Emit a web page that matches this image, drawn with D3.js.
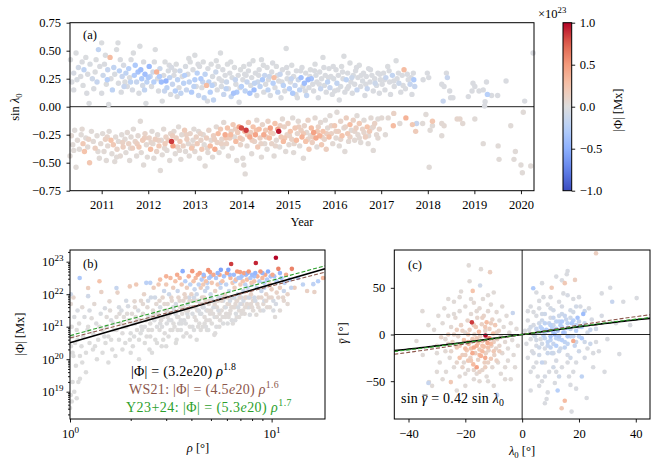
<!DOCTYPE html>
<html>
<head>
<meta charset="utf-8">
<script src="https://cdn.jsdelivr.net/npm/d3@7"></script>
<style>
body { margin: 0; background: #fff; }
svg, svg text { font-family: "Liberation Serif", "DejaVu Serif", serif; }
</style>
</head>
<body>
<div id="chart"></div>
<script>
// ---- data ----
// panel (a): [year, sin(lambda0), signed flux in 1e21 Mx]
const aNorth = [
[2010.33,0.42,-2],[2010.36,0.22,-3],[2010.4,0.30,-5],[2010.45,0.48,-2],[2010.47,0.24,-4],[2010.5,0.35,-8],
[2010.55,0.27,-3],[2010.6,0.19,-2],[2010.62,0.33,-20],[2010.66,0.44,-2],[2010.7,0.29,-3],[2010.73,0.03,-2],[2010.75,0.38,-4],[2010.8,0.25,-10],[2010.83,0.16,-3],[2010.86,0.31,-2],[2010.9,0.22,-15],[2010.93,0.51,-18],[2010.96,0.36,-3],[2011.0,0.57,-2],[2011.0,0.12,-3],
[2011.03,0.28,-12],[2011.06,0.38,-3],[2011.1,0.20,-2],[2011.13,0.33,-15],[2011.15,0.02,-2],[2011.18,0.44,30],[2011.2,0.25,-3],[2011.23,0.15,-20],[2011.26,0.35,-18],[2011.28,0.29,-4],[2011.32,0.51,-2],[2011.35,0.57,-2],[2011.36,0.21,-3],[2011.38,0.32,-22],[2011.42,0.13,-3],[2011.44,0.27,-15],[2011.47,0.37,-5],[2011.5,0.22,-2],
[2011.52,0.30,-20],[2011.55,0.18,-3],[2011.58,0.34,-25],[2011.6,0.26,-2],[2011.63,0.42,-3],[2011.66,0.15,-5],[2011.7,0.28,-28],[2011.72,0.37,-30],[2011.75,0.22,-15],[2011.78,0.31,-35],[2011.8,0.12,-3],[2011.82,0.54,-2],[2011.84,0.33,-40],[2011.86,0.25,-30],[2011.88,0.19,-8],[2011.9,0.40,-3],[2011.93,0.29,-38],[2011.95,0.03,-2],[2011.97,0.22,-20],
[2012.02,0.36,-42],[2012.04,0.27,-18],[2012.07,0.18,-3],[2012.1,0.31,-10],[2012.12,0.22,-25],[2012.15,0.51,-2],[2012.18,0.31,35],[2012.2,0.25,-4],[2012.22,0.14,-3],[2012.25,0.34,-12],[2012.28,0.22,-40],[2012.3,0.05,-2],[2012.33,0.28,-3],[2012.36,0.40,-2],[2012.38,0.23,-45],[2012.4,0.17,-20],[2012.43,0.32,-4],[2012.46,0.26,-18],[2012.48,0.11,-3],[2012.5,0.35,-5],
[2012.52,0.20,-15],[2012.55,0.28,-3],[2012.58,0.14,-25],[2012.6,0.38,-2],[2012.63,0.24,-20],[2012.66,0.17,-3],[2012.68,0.32,-12],[2012.7,0.12,-18],[2012.73,0.27,-3],[2012.76,0.21,-22],[2012.8,0.36,-4],[2012.82,0.15,-15],[2012.85,0.29,-3],[2012.88,0.22,-20],[2012.9,0.40,-2],[2012.93,0.13,-28],[2012.96,0.33,-3],[2013.0,0.46,-2],[2013.0,0.24,-25],
[2013.03,0.18,-3],[2013.05,0.30,-22],[2013.08,0.10,-15],[2013.1,0.36,-3],[2013.13,0.25,-28],[2013.15,0.17,-3],[2013.18,0.40,-2],[2013.2,0.08,-18],[2013.22,0.29,-20],[2013.25,0.19,30],[2013.28,0.34,-3],[2013.3,0.22,-20],[2013.33,0.13,-25],[2013.35,0.38,-2],[2013.38,0.27,-4],[2013.4,0.06,-18],[2013.42,0.20,-3],[2013.45,0.31,-12],[2013.48,0.15,-3],[2013.5,0.36,-2],
[2013.52,0.25,-3],[2013.55,0.48,-2],[2013.57,0.18,-4],[2013.6,0.33,-3],[2013.62,0.11,-15],[2013.65,0.28,-3],[2013.68,0.22,-12],[2013.7,0.38,-2],[2013.72,0.16,-3],[2013.75,0.30,-3],[2013.78,0.09,-18],[2013.8,0.26,-4],[2013.83,0.12,-35],[2013.85,0.35,-2],[2013.88,0.20,-3],[2013.9,0.13,-30],[2013.93,0.28,-3],[2013.95,0.04,-3],[2013.98,0.33,-2],
[2014.0,0.18,-25],[2014.03,0.24,-3],[2014.05,0.36,-2],[2014.08,0.14,-20],[2014.1,0.28,-3],[2014.12,0.22,-15],[2014.15,0.32,-3],[2014.18,0.12,-35],[2014.2,0.19,-4],[2014.22,0.26,-3],[2014.25,0.41,-2],[2014.27,0.15,-40],[2014.3,0.30,-3],[2014.33,0.10,-3],[2014.35,0.22,-12],[2014.38,0.33,-3],[2014.4,0.18,-20],[2014.43,0.42,-2],[2014.45,0.24,-30],[2014.48,0.13,-3],[2014.5,0.28,-15],
[2014.52,0.20,-3],[2014.55,0.35,-2],[2014.57,0.15,-20],[2014.6,0.27,-12],[2014.62,0.10,-3],[2014.65,0.31,-3],[2014.68,0.21,-25],[2014.7,0.26,28],[2014.72,0.17,-3],[2014.75,0.36,-2],[2014.78,0.13,-18],[2014.8,0.23,-3],[2014.83,0.29,-15],[2014.85,0.08,-3],[2014.88,0.33,-3],[2014.9,0.19,-22],[2014.93,0.14,-3],[2014.96,0.52,-2],[2014.98,0.25,-4],
[2015.0,0.30,-3],[2015.03,0.16,-25],[2015.05,0.22,-3],[2015.08,0.37,-2],[2015.1,0.12,-30],[2015.12,0.27,-3],[2015.15,0.19,-15],[2015.18,0.32,-3],[2015.2,0.08,-3],[2015.22,0.24,-12],[2015.25,0.15,-20],[2015.28,0.26,-38],[2015.3,0.35,-3],[2015.32,0.18,-3],[2015.35,0.21,-40],[2015.38,0.30,-3],[2015.4,0.10,-18],[2015.43,0.24,-42],[2015.45,0.17,-3],[2015.48,0.33,-2],
[2015.5,0.25,-35],[2015.53,0.20,-3],[2015.55,0.14,-3],[2015.58,0.38,-2],[2015.6,0.28,-4],[2015.62,0.22,-3],[2015.65,0.08,-3],[2015.68,0.31,-3],[2015.7,0.16,-15],[2015.72,0.25,-3],[2015.75,0.44,-2],[2015.78,0.19,-4],[2015.8,0.28,-3],[2015.82,0.13,-3],[2015.85,0.22,-20],[2015.88,0.34,-3],[2015.9,0.17,-15],[2015.92,0.27,-3],[2015.95,0.11,-3],[2015.98,0.25,-4],
[2016.0,0.14,-3],[2016.03,0.33,-3],[2016.05,0.21,-18],[2016.08,0.28,-3],[2016.1,0.06,-3],[2016.13,0.18,-4],[2016.15,0.36,-2],[2016.18,0.25,-3],[2016.2,0.45,-2],[2016.22,0.13,-3],[2016.25,0.24,-20],[2016.28,0.30,-3],[2016.3,0.18,-3],[2016.33,0.39,-2],[2016.35,0.22,-3],[2016.38,0.12,-3],[2016.4,0.28,-4],[2016.43,0.20,-3],[2016.45,0.32,-3],[2016.48,0.15,-15],
[2016.5,0.26,-3],[2016.53,0.37,-2],[2016.56,0.18,-3],[2016.6,0.23,-4],[2016.62,0.30,-3],[2016.65,0.10,-3],[2016.68,0.27,-3],[2016.7,0.16,-15],[2016.73,0.34,-3],[2016.76,0.22,-3],[2016.8,0.28,-3],[2016.83,0.14,-3],[2016.86,0.25,-3],[2016.9,0.19,-4],[2016.93,0.30,-3],[2016.96,0.12,-3],[2016.98,0.24,-3],
[2017.02,0.20,-3],[2017.05,0.30,-3],[2017.08,0.15,-3],[2017.1,0.26,-15],[2017.14,0.36,-2],[2017.18,0.22,-3],[2017.2,0.11,-3],[2017.24,0.28,-18],[2017.28,0.18,-3],[2017.32,0.41,-2],[2017.34,0.25,-3],[2017.38,0.21,-12],[2017.42,0.13,-3],[2017.45,0.28,-3],[2017.49,0.33,30],[2017.52,0.16,-3],[2017.58,0.24,-3],[2017.62,0.20,-15],[2017.66,0.11,-3],[2017.69,0.30,-3],[2017.7,0.24,-30],[2017.72,0.18,-15],
[2017.90,0.24,-3],[2017.99,0.30,-3],[2018.02,0.26,-3],[2018.30,0.20,-3],[2018.33,0.05,-15],[2018.35,0.18,-3],[2018.40,0.30,-3],[2018.42,0.26,-15],[2018.47,0.14,-3],[2018.49,0.08,-3],[2018.54,0.08,-3],[2018.87,0.09,-3],[2018.95,0.14,-3],[2018.97,0.21,-3],[2019.01,0.18,-3],[2019.10,0.14,-3],[2019.19,0.15,-3],[2019.22,0.006,-3],[2019.23,0.045,-3],[2019.26,0.22,-3],[2019.28,0.11,-25],[2019.37,0.10,-3],[2019.50,0.10,-3],[2019.68,0.23,-3],[2020.08,0.05,-3],[2020.26,0.48,-3],
[2010.4,0.15,-3],[2010.58,0.40,-3],[2010.68,0.12,-3],[2010.88,0.42,-2],[2011.08,0.46,-2],[2011.12,0.24,-25],[2011.4,0.42,-3],[2011.48,0.18,-15],[2011.62,0.22,-20],[2011.68,0.48,-2],[2011.92,0.15,-18],[2012.0,0.26,-30],[2012.13,0.40,-3],[2012.24,0.27,-28],[2012.35,0.14,-15],[2012.45,0.37,-3],[2012.57,0.32,-3],[2012.62,0.09,-3],[2012.78,0.28,-25],[2012.87,0.43,-2],[2012.98,0.18,-20],[2013.07,0.38,-3],[2013.17,0.22,-15],[2013.27,0.05,-3],[2013.37,0.19,-22],[2013.46,0.41,-2],[2013.58,0.23,-3],[2013.67,0.16,-20],[2013.77,0.40,-2],[2013.87,0.24,-15],[2013.97,0.17,-3],[2014.07,0.29,-3],[2014.17,0.38,-3],[2014.28,0.21,-18],[2014.37,0.28,-3],[2014.47,0.37,-2],[2014.58,0.24,-3],[2014.67,0.39,-3],[2014.77,0.28,-3],[2014.87,0.22,-3],[2014.97,0.35,-3],[2015.07,0.25,-15],[2015.17,0.11,-3],[2015.27,0.32,-3],[2015.37,0.14,-3],[2015.47,0.27,-3],[2015.57,0.32,-3],[2015.67,0.20,-3],[2015.77,0.35,-3],[2015.87,0.26,-3],[2015.97,0.36,-3],[2016.07,0.15,-3],[2016.17,0.31,-3],[2016.27,0.16,-3],[2016.37,0.26,-12],[2016.47,0.35,-3],[2016.57,0.28,-3],[2016.67,0.20,-3],[2016.77,0.33,-3],[2016.87,0.21,-12],[2016.97,0.29,-3],[2017.07,0.24,-3],[2017.17,0.32,-3],[2017.27,0.23,-3],[2017.37,0.30,-3],[2017.47,0.19,-3],[2017.56,0.29,-3],[2017.64,0.26,-3]
];
const aSouth = [
[2010.32,-0.44,3],[2010.35,-0.26,5],[2010.38,-0.34,3],[2010.42,-0.21,2],[2010.45,-0.54,3],[2010.48,-0.30,4],[2010.52,-0.38,3],[2010.56,-0.25,3],[2010.6,-0.33,20],[2010.63,-0.40,25],[2010.66,-0.28,3],[2010.7,-0.36,4],[2010.74,-0.50,22],[2010.78,-0.22,3],[2010.82,-0.31,4],[2010.86,-0.37,15],[2010.9,-0.26,3],[2010.95,-0.46,3],[2010.98,-0.33,5],
[2011.02,-0.24,3],[2011.05,-0.40,4],[2011.08,-0.29,12],[2011.1,-0.48,3],[2011.13,-0.35,5],[2011.16,-0.22,3],[2011.2,-0.30,25],[2011.22,-0.42,3],[2011.25,-0.34,20],[2011.28,-0.49,3],[2011.3,-0.27,4],[2011.33,-0.38,10],[2011.36,-0.31,3],[2011.4,-0.44,5],[2011.43,-0.25,3],[2011.46,-0.36,15],[2011.5,-0.29,4],
[2011.52,-0.41,3],[2011.55,-0.23,5],[2011.58,-0.33,12],[2011.6,-0.48,3],[2011.63,-0.27,4],[2011.66,-0.37,15],[2011.68,-0.20,3],[2011.72,-0.31,10],[2011.75,-0.44,3],[2011.78,-0.26,5],[2011.8,-0.36,20],[2011.83,-0.13,3],[2011.85,-0.41,4],[2011.88,-0.30,18],[2011.9,-0.52,3],[2011.93,-0.24,10],[2011.96,-0.34,5],[2011.98,-0.45,3],
[2012.02,-0.28,12],[2012.05,-0.38,30],[2012.08,-0.22,3],[2012.1,-0.33,5],[2012.12,-0.46,3],[2012.15,-0.29,15],[2012.18,-0.40,10],[2012.2,-0.25,4],[2012.23,-0.35,20],[2012.26,-0.57,3],[2012.28,-0.30,5],[2012.3,-0.43,3],[2012.33,-0.20,4],[2012.36,-0.33,18],[2012.38,-0.27,12],[2012.4,-0.39,3],[2012.43,-0.30,15],[2012.46,-0.48,3],[2012.48,-0.24,8],
[2012.5,-0.31,85],[2012.53,-0.35,45],[2012.55,-0.22,5],[2012.58,-0.42,3],[2012.6,-0.28,15],[2012.63,-0.36,10],[2012.65,-0.18,3],[2012.68,-0.31,20],[2012.7,-0.47,3],[2012.72,-0.25,5],[2012.75,-0.35,12],[2012.78,-0.21,18],[2012.8,-0.40,3],[2012.83,-0.29,15],[2012.86,-0.33,5],[2012.88,-0.44,3],[2012.9,-0.24,10],[2012.93,-0.37,22],[2012.96,-0.30,4],[2012.98,-0.20,3],
[2013.0,-0.40,5],[2013.03,-0.27,12],[2013.05,-0.33,18],[2013.08,-0.22,3],[2013.1,-0.46,3],[2013.13,-0.30,10],[2013.15,-0.38,20],[2013.18,-0.25,5],[2013.2,-0.34,3],[2013.22,-0.53,3],[2013.25,-0.28,15],[2013.28,-0.41,4],[2013.3,-0.21,10],[2013.33,-0.35,30],[2013.35,-0.30,5],[2013.38,-0.45,3],[2013.4,-0.26,15],[2013.43,-0.38,40],[2013.46,-0.18,5],[2013.48,-0.32,12],
[2013.5,-0.24,30],[2013.52,-0.41,3],[2013.55,-0.20,20],[2013.58,-0.29,8],[2013.6,-0.36,3],[2013.62,-0.14,5],[2013.65,-0.25,40],[2013.68,-0.33,12],[2013.7,-0.19,25],[2013.72,-0.44,3],[2013.75,-0.28,15],[2013.78,-0.22,10],[2013.8,-0.37,5],[2013.82,-0.16,20],[2013.85,-0.27,3],[2013.88,-0.31,30],[2013.9,-0.48,3],[2013.92,-0.23,18],[2013.95,-0.18,45],[2013.98,-0.34,10],
[2014.0,-0.19,80],[2014.02,-0.29,12],[2014.05,-0.52,3],[2014.07,-0.22,30],[2014.1,-0.21,85],[2014.12,-0.35,5],[2014.15,-0.14,20],[2014.18,-0.27,40],[2014.2,-0.23,15],[2014.22,-0.42,3],[2014.25,-0.18,25],[2014.28,-0.31,10],[2014.3,-0.25,45],[2014.33,-0.12,5],[2014.35,-0.36,20],[2014.38,-0.20,30],[2014.4,-0.28,15],[2014.43,-0.45,3],[2014.45,-0.16,10],[2014.48,-0.25,40],[2014.5,-0.33,5],[2014.08,-0.60,3],[2014.03,-0.46,3],
[2014.52,-0.21,20],[2014.55,-0.38,3],[2014.57,-0.13,12],[2014.6,-0.28,30],[2014.62,-0.19,45],[2014.65,-0.33,10],[2014.68,-0.24,15],[2014.7,-0.44,3],[2014.72,-0.15,25],[2014.75,-0.30,5],[2014.78,-0.20,40],[2014.8,-0.22,95],[2014.82,-0.36,3],[2014.85,-0.27,20],[2014.88,-0.11,5],[2014.9,-0.31,30],[2014.92,-0.18,12],[2014.95,-0.40,3],[2014.98,-0.25,10],
[2015.0,-0.15,15],[2015.02,-0.34,5],[2015.05,-0.22,25],[2015.08,-0.29,12],[2015.1,-0.10,3],[2015.12,-0.41,3],[2015.15,-0.19,20],[2015.18,-0.30,30],[2015.2,-0.24,8],[2015.22,-0.13,5],[2015.25,-0.35,3],[2015.28,-0.21,15],[2015.3,-0.27,35],[2015.33,-0.46,3],[2015.35,-0.17,10],[2015.38,-0.31,25],[2015.4,-0.23,5],[2015.43,-0.12,12],[2015.45,-0.38,20],[2015.48,-0.26,5],
[2015.5,-0.19,30],[2015.52,-0.32,15],[2015.55,-0.23,45],[2015.58,-0.10,5],[2015.6,-0.28,40],[2015.62,-0.36,3],[2015.65,-0.18,12],[2015.68,-0.26,35],[2015.7,-0.14,5],[2015.72,-0.34,20],[2015.75,-0.22,25],[2015.78,-0.29,10],[2015.8,-0.12,3],[2015.82,-0.38,15],[2015.85,-0.19,5],[2015.88,-0.27,30],[2015.9,-0.08,3],[2015.93,-0.24,12],[2015.96,-0.33,5],
[2016.0,-0.17,20],[2016.03,-0.28,5],[2016.05,-0.05,3],[2016.08,-0.22,15],[2016.1,-0.35,3],[2016.13,-0.13,10],[2016.16,-0.26,25],[2016.2,-0.19,5],[2016.22,-0.40,3],[2016.25,-0.10,15],[2016.28,-0.24,20],[2016.3,-0.31,5],[2016.33,-0.16,30],[2016.36,-0.21,3],[2016.4,-0.12,12],[2016.43,-0.30,5],[2016.46,-0.19,15],[2016.48,-0.08,3],
[2016.5,-0.25,5],[2016.53,-0.15,20],[2016.56,-0.32,3],[2016.6,-0.20,10],[2016.63,-0.12,3],[2016.66,-0.27,15],[2016.7,-0.18,25],[2016.72,-0.33,3],[2016.75,-0.22,20],[2016.78,-0.10,5],[2016.8,-0.19,3],[2016.83,-0.39,3],[2016.86,-0.15,12],[2016.9,-0.25,5],[2016.93,-0.11,3],[2016.96,-0.20,10],
[2017.01,-0.10,5],[2017.09,-0.25,3],[2017.15,-0.10,5],[2017.26,-0.17,30],[2017.27,-0.06,12],[2017.40,-0.15,3],[2017.53,-0.10,35],[2017.67,-0.16,20],[2017.74,-0.22,18],[2017.76,-0.15,-15],[2017.89,-0.15,3],[2017.96,-0.07,3],[2018.03,-0.54,3],[2018.05,-0.21,3],[2018.10,-0.13,22],[2018.10,-0.17,3],[2018.30,-0.15,5],[2018.30,-0.26,3],[2018.35,-0.17,5],[2018.63,-0.11,8],[2018.69,-0.11,8],[2018.75,-0.15,5],[2019.01,-0.11,3],[2019.19,-0.33,3],[2019.51,-0.35,3],[2019.53,-0.47,3],[2019.78,-0.17,3],[2019.85,-0.47,3],[2019.88,-0.40,3],[2020.00,-0.52,3],[2020.03,-0.59,3],[2020.05,-0.05,3],[2020.21,-0.53,3],
[2010.4,-0.39,3],[2010.58,-0.20,5],[2010.72,-0.29,10],[2010.92,-0.40,3],[2011.12,-0.27,8],[2011.32,-0.45,3],[2011.45,-0.32,12],[2011.62,-0.37,3],[2011.76,-0.33,15],[2011.92,-0.28,15],[2012.06,-0.32,8],[2012.22,-0.30,12],[2012.35,-0.37,5],[2012.52,-0.26,15],[2012.67,-0.39,5],[2012.82,-0.25,12],[2012.95,-0.35,8],[2013.12,-0.24,10],[2013.27,-0.37,5],[2013.42,-0.29,15],[2013.57,-0.33,12],[2013.67,-0.28,20],[2013.77,-0.25,30],[2013.87,-0.20,15],[2013.97,-0.28,20],[2014.13,-0.25,20],[2014.23,-0.30,15],[2014.32,-0.21,25],[2014.42,-0.33,10],[2014.53,-0.27,15],[2014.63,-0.23,20],[2014.73,-0.35,8],[2014.83,-0.17,15],[2014.93,-0.28,20],[2015.03,-0.26,12],[2015.13,-0.33,8],[2015.23,-0.18,15],[2015.33,-0.24,20],[2015.43,-0.29,10],[2015.53,-0.27,15],[2015.63,-0.22,20],[2015.73,-0.27,12],[2015.83,-0.24,15],[2015.93,-0.17,10],[2016.03,-0.22,12],[2016.13,-0.29,8],[2016.23,-0.18,10],[2016.33,-0.27,12],[2016.43,-0.22,8],[2016.53,-0.28,5],[2016.63,-0.23,8],[2016.73,-0.26,5],[2016.83,-0.18,8],[2016.93,-0.28,5]
];

// panel (b): [rho in deg, log10 |Phi| in Mx, polarity sign]
const bPoints = [
[1.00,18.5,1],[1.01,18.9,-1],[1.02,18.7,1],[1.03,19.3,1],[1.07,19.8,-1],[1.12,19.4,1],[1.10,19.3,-1],[1.12,20.1,1],[1.04,20.1,1],[1.01,20.4,-1],[1.03,20.7,1],[1.06,20.5,-1],[1.02,21.0,1],[1.05,21.3,-1],[1.01,21.7,1],[1.01,22.0,-1],[1.04,21.9,1],[1.08,20.9,1],[1.09,20.6,-1],[1.11,21.1,1],[1.14,20.4,-1],[1.16,20.7,1],[1.117,22.5,-1],[1.18,21.3,-1],[1.2,20.2,1],[1.22,20.9,-1],[1.23,21.0,1],[1.23,22.19,1],[1.23,21.94,-1],[1.25,20.5,1],[1.28,21.26,1],[1.3,20.8,-1],[1.33,20.4,1],[1.35,21.1,-1],[1.38,20.6,1],[1.4,22.4,1],[1.43,22.07,1],[1.42,21.4,-1],[1.45,20.9,1],[1.49,21.57,-1],[1.5,20.5,1],[1.52,21.0,-1],[1.55,20.7,1],[1.57,21.78,1],[1.6,21.2,-1],[1.62,20.3,1],[1.65,20.9,-1],[1.7,22.19,-1],[1.72,22.05,1],[1.7,21.3,1],[1.75,20.6,-1],[1.78,21.1,1],[1.8,21.5,-1],[1.82,20.8,1],[1.85,21.3,1],[1.88,20.5,-1],[1.9,21.0,1],[1.94,21.63,-1],[1.95,21.2,1],[1.98,22.24,1],
[2.0,20.8,-1],[2.03,21.4,1],[2.05,20.4,1],[2.09,21.78,1],[2.1,21.1,-1],[2.13,22.3,1],[2.15,20.9,1],[2.18,21.5,-1],[2.2,20.6,1],[2.22,21.2,1],[2.25,21.8,1],[2.28,20.9,-1],[2.3,21.4,1],[2.33,22.0,1],[2.35,21.0,-1],[2.39,22.35,-1],[2.4,20.7,1],[2.42,21.6,1],[2.45,21.3,-1],[2.48,20.3,1],[2.5,21.1,1],[2.52,21.9,-1],[2.55,20.9,1],[2.58,21.5,1],[2.6,22.2,1],[2.62,21.2,-1],[2.65,20.6,1],[2.68,21.7,1],[2.7,21.0,-1],[2.73,21.4,1],[2.75,22.3,1],[2.78,20.9,1],[2.8,21.6,-1],[2.83,21.2,1],[2.85,20.4,-1],[2.88,21.9,1],[2.9,21.3,1],[2.93,22.1,-1],[2.95,20.8,1],[2.98,21.5,1],
[3.0,22.3,1],[3.02,21.1,-1],[3.05,21.7,1],[3.08,20.7,1],[3.1,22.0,-1],[3.12,21.4,1],[3.15,22.5,1],[3.18,21.2,-1],[3.2,21.8,1],[3.22,20.9,1],[3.25,22.2,1],[3.28,21.5,-1],[3.3,21.0,1],[3.33,22.4,1],[3.35,21.7,-1],[3.38,20.6,1],[3.4,21.3,1],[3.42,22.1,-1],[3.45,21.9,1],[3.48,21.1,-1],[3.5,22.5,1],[3.52,21.6,1],[3.55,20.9,-1],[3.58,22.3,1],[3.6,21.4,1],[3.62,22.71,-1],[3.65,21.8,1],[3.68,21.2,-1],[3.7,22.0,1],[3.73,22.4,-1],[3.75,21.5,1],[3.78,20.8,1],[3.8,22.2,1],[3.83,21.7,-1],[3.85,21.3,1],[3.88,22.55,1],[3.9,21.9,-1],[3.93,21.0,1],[3.95,22.3,-1],[3.98,21.6,1],
[4.0,22.0,1],[4.04,22.71,1],[4.05,21.4,-1],[4.08,21.8,1],[4.1,22.4,1],[4.12,20.9,-1],[4.15,22.15,-1],[4.18,21.6,1],[4.2,22.5,1],[4.22,21.2,1],[4.25,22.0,-1],[4.28,21.5,1],[4.3,22.6,1],[4.33,21.8,-1],[4.35,22.3,-1],[4.38,21.1,1],[4.4,22.65,1],[4.42,21.7,1],[4.45,22.2,1],[4.48,21.4,-1],[4.5,22.45,-1],[4.52,21.9,1],[4.55,21.0,1],[4.58,22.3,1],[4.6,21.6,-1],[4.62,22.55,1],[4.65,21.3,1],[4.68,22.1,-1],[4.7,21.8,1],[4.72,22.4,1],[4.75,21.5,-1],[4.78,20.9,1],[4.8,22.2,-1],[4.85,22.74,1],[4.88,21.7,1],[4.9,22.5,-1],[4.93,21.2,1],[4.95,22.68,1],[4.98,22.0,-1],
[5.0,21.5,1],[5.05,22.35,1],[5.1,21.8,-1],[5.15,22.6,1],[5.2,20.75,1],[5.22,21.3,-1],[5.25,22.1,1],[5.3,22.5,-1],[5.35,21.6,1],[5.4,22.3,1],[5.45,21.9,-1],[5.5,21.0,1],[5.52,22.6,1],[5.58,22.2,-1],[5.6,22.75,-1],[5.65,21.5,1],[5.7,22.4,1],[5.75,21.8,-1],[5.8,22.55,-1],[5.85,22.0,1],[5.9,21.3,1],[5.95,22.3,-1],[6.0,22.65,1],[6.05,21.7,1],[6.1,22.75,-1],[6.15,22.1,-1],[6.2,21.4,1],[6.25,22.5,1],[6.3,22.93,1],[6.35,21.9,-1],[6.4,22.35,1],[6.45,21.6,1],[6.5,22.6,-1],[6.55,22.2,1],[6.6,21.2,-1],[6.65,22.45,1],[6.7,21.8,1],[6.75,22.7,1],[6.8,22.0,-1],[6.85,22.5,-1],[6.9,21.5,1],[6.97,22.68,1],[7.0,22.3,1],[7.05,21.9,-1],[7.1,22.55,-1],[7.15,21.7,1],[7.2,22.4,1],[7.25,22.1,-1],[7.3,22.65,1],[7.35,21.4,1],[7.4,22.3,-1],[7.45,22.6,-1],[7.5,21.9,1],[7.55,22.45,1],[7.6,22.2,-1],[7.7,22.7,1],[7.75,21.6,1],[7.8,21.37,-1],[7.85,22.5,-1],[7.9,22.0,1],[7.95,22.35,1],
[8.0,22.6,-1],[8.1,21.8,1],[8.2,22.4,1],[8.3,22.65,-1],[8.35,22.96,1],[8.4,21.37,1],[8.45,22.2,-1],[8.5,22.55,1],[8.6,21.9,1],[8.7,22.4,-1],[8.8,22.7,1],[8.9,22.1,-1],[9.0,22.5,1],[9.1,21.7,1],[9.2,22.35,-1],[9.3,22.6,1],[9.4,22.0,1],[9.5,22.45,-1],[9.6,22.7,-1],[9.7,21.9,1],[9.8,22.3,1],[9.9,22.55,-1],[10.0,22.15,1],[10.1,22.6,1],[10.2,21.8,-1],[10.4,21.3,1],[10.5,23.12,1],[10.6,22.4,-1],[10.8,22.78,1],[11.0,22.2,1],[11.2,22.5,-1],[11.4,21.9,1],[11.6,22.35,-1],[11.8,22.6,1],[12.0,22.0,1],[12.3,22.45,-1],[12.6,22.78,1],
[13.0,22.2,1],[13.5,22.5,-1],[14.3,22.3,-1],[15.0,22.1,1],[16.1,22.31,-1],[16.3,22.07,1],[17.0,22.4,-1],[18.0,22.5,1],
[1.3,20.3,1],[1.36,20.0,-1],[1.45,20.2,1],[1.55,19.9,-1],[1.6,20.6,1],[1.68,20.1,1],[1.75,21.6,-1],[1.82,20.3,1],[1.9,21.8,-1],[2.0,20.2,1],[2.08,20.7,-1],[2.12,21.3,1],[2.2,20.0,1],[2.26,21.0,-1],[2.35,20.5,1],[2.45,20.9,1],[2.55,20.2,-1],[2.6,21.4,1],[2.7,20.5,1],[2.8,21.1,-1],[2.9,20.6,1],[3.0,20.4,-1],[3.05,21.3,1],[3.15,20.9,1],[3.25,21.6,-1],[3.35,20.5,1],[3.45,21.3,1],[3.55,21.2,-1],[3.65,20.7,1],[3.75,21.1,-1],[3.85,21.5,1],[3.95,20.7,1],[4.05,21.0,-1],[4.15,21.3,1],[4.25,20.6,1],[4.35,21.5,-1],[4.45,20.9,1],[4.55,21.6,-1],[4.65,21.1,1],[4.75,21.2,1],[4.85,20.9,-1],[4.95,21.4,1],[5.05,21.1,1],[5.15,21.6,-1],[5.25,20.8,1],[5.35,21.3,1],[5.45,21.5,-1],[5.55,21.2,1],[5.65,21.8,1],[5.75,21.1,-1],[5.85,21.6,1],[5.95,21.4,1],[6.05,21.1,-1],[6.15,21.7,1],[6.25,21.5,1],[6.35,21.2,-1],[6.45,21.9,1],[6.55,21.6,1],[6.65,21.4,-1],[6.75,21.8,1],[6.9,21.3,1],[7.0,21.7,-1],[7.2,21.5,1],[7.4,21.9,1],[7.6,21.6,-1],[7.8,21.9,1],[8.0,21.6,1],[8.2,21.9,-1],[8.5,21.7,1],[8.8,21.5,1],[9.2,21.8,-1],[9.5,21.6,1],[10.0,21.9,1],[10.5,21.7,-1],[11.0,21.5,1],[12.0,21.7,1],
[1.15,21.6,1],[1.25,21.5,-1],[1.32,21.7,1],[1.4,21.0,1],[1.48,20.7,-1],[1.52,21.3,1],[1.58,21.5,1],[1.64,21.1,-1],[1.7,20.9,1],[1.76,21.4,1],[1.84,21.0,-1],[1.92,21.4,1],[1.98,20.6,1],[2.04,21.1,-1],[2.1,21.6,1],[2.16,21.2,1],[2.24,20.8,-1],[2.3,21.7,1],[2.38,21.2,1],[2.44,21.8,-1],[2.5,20.7,1],[2.56,21.3,1],[2.64,21.9,-1],[2.72,21.3,1],[2.78,21.8,1],[2.86,21.0,-1],[2.94,21.7,1],[3.02,21.5,1],[3.1,21.2,-1],[3.18,21.9,1],[3.26,21.1,1],[3.34,21.4,-1],[3.42,20.9,1],[3.5,21.8,1],[3.58,21.1,-1],[3.66,21.6,1],[3.74,21.9,1],[3.82,21.4,-1],[3.92,21.8,1],[4.02,21.6,1],[4.12,21.9,-1],[4.22,21.8,1],[4.32,21.0,1],[4.42,21.4,-1],[4.52,21.7,1],[4.62,21.9,1],[4.72,21.0,-1],[4.82,21.5,1],[4.92,21.8,1],[5.02,21.9,-1],[5.12,21.4,1],[5.22,21.7,1],[5.32,21.0,-1],[5.42,21.8,1],[5.52,21.4,1],[5.62,21.9,-1],[5.72,21.3,1],[5.82,21.9,1],[5.92,21.6,-1],[6.02,21.9,1],[6.12,21.3,1],[6.22,21.8,-1],[6.32,21.6,1],[6.42,21.1,1],[6.52,21.9,-1],[6.62,21.7,1],[6.72,21.3,1],[6.82,21.6,-1],[6.95,21.9,1],[7.1,21.4,1],[7.25,21.8,-1],[7.4,21.6,1],[7.55,21.7,1],[7.7,21.9,-1],[7.9,21.7,1],[8.1,21.5,1],[8.3,21.8,-1],[8.6,21.6,1],[8.9,21.9,1],[9.1,21.5,-1],[9.4,21.8,1],[9.8,21.6,1],[10.2,21.5,-1],[10.8,21.9,1],[11.5,21.8,1],[1.05,19.0,1],[1.08,18.8,-1],[1.15,19.9,1],[1.2,19.6,-1],[1.03,20.2,1],[1.09,21.5,-1],
[4.6,22.6,-1],[5.0,22.55,-1],[5.4,22.65,-1],[6.2,22.6,-1],[7.0,22.5,-1],[7.6,22.65,-1],[8.2,22.55,-1],[9.0,22.65,-1],[10.3,22.55,-1],[11.0,22.65,-1],[3.4,22.6,1],[3.0,22.55,1],[2.8,22.45,1],[2.5,22.35,-1],[4.8,22.35,-1],[5.6,22.35,-1],[6.6,22.4,-1],[8.0,22.3,-1],[9.2,22.2,-1],[12.5,22.2,-1],[10.6,22.05,1],[11.5,22.1,-1]
];

// panel (c): [lambda0 deg, mean tilt deg, signed flux in 1e21 Mx]
const cSouth = [
[-37.2,-7,3],[-35.1,25,3],[-35,-22,3],[-33,-52,-15],[-32.8,-51,3],[-31.7,-55,3],[-31,5,3],[-30,-12,5],[-29.5,20,3],[-29,-30,3],[-28.5,-3,10],[-28,12,3],[-27.4,28,3],[-27,-18,5],[-26.8,-40,3],[-26,0,15],[-25.5,-25,3],[-25.1,-51,20],[-25,8,5],[-24.5,-8,12],[-24,35,3],[-24,-35,3],[-23.5,18,5],[-23,-14,20],[-22.5,-2,8],[-22,25,3],[-22,-45,5],[-21.5,46,3],[-21.5,10,12],[-21,-22,15],[-20.5,-6,25],[-20.5,-30,5],[-20,30,3],[-20,2,5],[-19.5,-17,20],[-19.2,15,10],[-19,-38,3],[-18.8,74,3],[-18.8,-10,30],[-18.5,57,3],[-18.5,5,15],[-18.2,-25,12],[-18,22,5],[-17.7,13,85],[-17.5,-5,20],[-17.4,46.7,25],[-17.2,-32,30],[-17,-14,40],[-17,34,5],[-16.8,0,10],[-16.5,-20,15],[-16.3,8,20],[-16,-42,5],[-16,-35,45],[-15.8,18,8],[-15.5,-9,25],[-15.5,-27,12],[-15.2,3,30],[-15,-16,20],[-15,28,5],[-14.8,52.5,-10],[-14.8,-2,15],[-14.5,70,3],[-14.5,-23,35],[-14.2,11,12],[-14,-38,8],[-14,-7,20],[-13.8,38,3],[-13.5,-13,25],[-13.5,20,10],[-13.2,-30,15],[-13,4,8],[-12.9,-1,100],[-12.8,-20,12],[-12.5,13,30],[-12.5,-45,3],[-12.2,-9,40],[-12,25,5],[-12,-4,20],[-11.8,-17,10],[-11.5,-4,60],[-11.5,6,15],[-11.3,66.8,15],[-11,-26,20],[-11,32,3],[-10.8,-12,12],[-10.5,16,10],[-10.5,-35,5],[-10.2,1,25],[-10,-8,15],[-10,45,3],[-9.8,-22,12],[-9.5,10,20],[-9.2,-15,8],[-9,24,5],[-8.8,-64.7,-15],[-8.8,-5,10],[-8.5,-30,5],[-8.2,4,12],[-8,15,3],[-8,-12,8],[-7.5,-42,3],[-7.5,-2,5],[-7,30,3],[-7,-20,5],[-6.5,8,3],[-6,-8,5],[-6,-48,3],[-5.5,20,3],[-5,-15,3],[-5,-28,3],[-4.5,2,3],[-4,-48,3],[-4,12,3],[-3.5,-6,3],[-3.3,23,-15],[-3,-22,3],[-2.5,-35,3],[-2,6,3],[-1.5,-12,3],[-23,-60,3],[-20,-55,3],[-17,-48,3],[-26,38,3],[-30,-40,3],[-22,-25,25],[-19,-8,35],[-17.5,-20,40],[-16,-12,35],[-14,-18,30],[-18,-28,20],[-20,-15,30],[-23,5,15],[-13,-25,40],[-12,-14,25],[-21,-35,10],[-15,-50,5],[-26,-10,8],[-24,22,3],[-28,-48,3],[-10,-55,3],[-12,-50,3],
[-8,-18,15],[-9,2,10],[-10,-18,20],[-11,12,15],[-12,-30,12],[-13,8,20],[-14,-12,25],[-15,-22,30],[-16,-4,20],[-17,10,15],[-18,-15,25],[-19,0,20],[-20,-22,15],[-21,4,12],[-22,-12,20],[-23,-30,8],[-24,0,10],[-25,-18,8],[-26,20,3],[-27,-5,5],[-13,-35,15],[-15,-40,10],[-17,-38,8],[-19,-28,20],[-11,-10,30],[-9,-28,12],[-14,18,12],[-16,25,5],[-18,38,3],[-20,-42,3],[-22,40,3],[-12,42,3],[-30,-20,3],[-33,10,3],[-6,-35,3]
];
const cNorth = [
[1,4,-3],[1.5,-10,-3],[2,15,-3],[2,-25,-3],[2.5,5,-5],[3,-5,-3],[3,30,-3],[3.5,-18,-3],[3.9,49.6,-30],[4,10,-5],[4,-35,-3],[4.5,-2,-10],[5,20,-3],[5,-12,-5],[5.5,3,-15],[5.5,-45,-3],[6,28,-3],[6,-22,-8],[6.5,8,-20],[6.5,-5,-3],[7,15,-12],[7,-30,-15],[7.5,-1,-25],[7.5,40,-3],[8,22,-10],[8,-73.6,-3],[8,-15,-5],[8.5,5,-30],[8.6,-69,-3],[9,-8,-20],[9,32,-3],[9.5,12,-15],[9.5,-40,-3],[10,-2,-35],[10,18,-5],[10.4,50,20],[10.5,-20,-12],[10.5,6,-25],[11,26,-8],[11,-10,-15],[11.5,0,-40],[11.5,-52,-3],[12,14,-20],[12,-28,-5],[12.5,-60,-25],[12.5,4,-30],[13,-5,-18],[13,35,-3],[13.5,10,-25],[13.5,-15,-10],[13.9,-79,20],[14,22,-12],[14,-35,-3],[14.5,2,-35],[14.5,44,-3],[15,55,20],[15,-71,30],[15,-8,-20],[15.5,16,-15],[15.7,64.6,-3],[16,-22,-5],[16,7,-28],[16.5,-45,-3],[17,-54,-3],[17,26,-8],[17,-2,-20],[17.4,-82.6,-3],[17.5,12,-30],[18,-6.9,40],[18,38,-3],[18.5,-12,-15],[18.6,58.5,15],[19,4,-25],[19,-30,-3],[19.5,18,-35],[20,-18,-10],[20,8,-12],[20.5,30,-5],[21,-4,-30],[21,-45,-20],[21.5,22,-40],[22,12,-15],[22,-25,-5],[22.7,-68,-3],[23,2,-8],[23.5,28,-3],[24,-10,-12],[24.5,16,-5],[25,-35,-3],[26,87,15],[26,6,-8],[27,-18,-3],[28,44,-3],[28,20,-5],[29,-40,-3],[30,-5,-3],[31,50,-3],[31.7,35,-15],[33,12,-3],[34.2,-21,-3],[35.6,35,-3],[38,10,-3],[40.3,39,-3],[5,45,-3],[7,55,-3],[12,62,-3],[14,58,-3],[16,68,-3],[6,-55,-3],[9,-62,-3],[19,-58,-3],[3,-60,-3],[10,-6,-20],[12,-12,-25],[8,2,-15],[14,8,-22],[16,-10,-18],[11,10,-12],[13,-2,-30],[9,-20,-12],[15,20,-15],[18,15,-25],[7,-10,-8],[6,12,-10],[20,-2,-20],[17,-25,-10],[4,-20,-5],[11,-35,-8],[22,25,-12],[24,5,-15],[19,30,-8],[10,28,-6],[5,-30,-3],[2,25,-3],[8,-45,-5],[13,-45,-10],[16,42,-5],[25,-20,-3],
[3,8,-8],[4,0,-12],[5,-6,-8],[5,6,-15],[6,2,-20],[6,-14,-10],[7,6,-25],[7,22,-8],[8,-4,-18],[8,12,-20],[9,4,-28],[9,-12,-15],[10,10,-22],[10,-14,-18],[11,2,-30],[11,18,-15],[12,6,-25],[12,-4,-22],[13,14,-18],[13,-18,-12],[14,-6,-25],[14,14,-28],[15,2,-22],[15,-14,-18],[16,12,-20],[16,-2,-30],[17,6,-15],[17,18,-10],[18,-2,-18],[18,24,-8],[19,10,-20],[19,-8,-12],[20,14,-15],[21,8,-25],[22,-8,-10],[4,24,-3],[6,36,-3],[8,-30,-3],[10,40,-3],[12,-40,-3],[14,30,-5],[16,-30,-3],[18,-40,-3],[20,40,-3],[23,-15,-3],[26,-8,-3],[3,-40,-3],[7,-50,-3],[11,-20,-8],[13,20,-10]
];

// fits: |Phi| = A rho^p  and  sin(gamma) = k sin(lambda0)
const fitNames = ["", "WS21:", "Y23+24:"];
const fitAmp = [3.2e20, 4.5e20, 5.3e20];
const fitPow = [1.8, 1.6, 1.7];
const fitJoy = [0.42, 0.51, 0.44];

// ticks
const yearTicks = [2011, 2012, 2013, 2014, 2015, 2016, 2017, 2018, 2019, 2020];
const sinTicks = [-0.75, -0.5, -0.25, 0, 0.25, 0.5, 0.75];
const cbTicks = [-1, -0.5, 0, 0.5, 1];
const rhoTicks = [1, 10];
const phiTicks = [1e19, 1e20, 1e21, 1e22, 1e23];
const lamTicks = [-40, -20, 0, 20, 40];
const gamTicks = [-50, 0, 50];

// ---- drawing ----
const W = 664, H = 469;
const FONT = "'Liberation Serif', 'DejaVu Serif', serif";
const svg = d3.select("#chart").append("svg")
    .attr("width", W).attr("height", H)
    .attr("font-size", 12).attr("font-family", FONT);

// matplotlib coolwarm
const cool = d3.scaleLinear()
    .domain([-1, -0.75, -0.5, -0.25, 0, 0.25, 0.5, 0.75, 1])
    .range(["#3b4cc0", "#6282ea", "#8db0fe", "#b8d0f9", "#dddddd", "#f5c4ac", "#f49a7b", "#de604d", "#b40426"])
    .clamp(true);
const lineCol = ["#000", "#8c564b", "#2ca02c"];

function tidy(g) {
    g.attr("font-family", FONT).attr("font-size", 12.5);
    g.select(".domain").remove();
    g.selectAll(".tick line").attr("stroke", "#000").attr("stroke-width", 0.9);
}

function frame(x0, y0, x1, y1) {
    svg.append("rect").attr("x", x0).attr("y", y0).attr("width", x1 - x0).attr("height", y1 - y0)
        .attr("fill", "none").attr("stroke", "#000").attr("stroke-width", 1);
}

// rich text: parts = [[text, flags]] flags: i italic, ^ sup, _ sub, o overline
function rich(t, parts, fs) {
    let off = 0, idx = 0;
    const bars = [];
    parts.forEach(([s, f = ""]) => {
        const target = f.includes("^") ? -0.42 * fs : f.includes("_") ? 0.22 * fs : 0;
        const sp = t.append("tspan").text(s).attr("dy", target - off);
        off = target;
        if (f.includes("i")) sp.attr("font-style", "italic");
        if (f.includes("^") || f.includes("_")) sp.attr("font-size", fs * 0.7);
        if (f.includes("o")) bars.push(idx);
        idx += s.length;
    });
    return bars;
}

function label(x, y, parts, opts = {}) {
    const fs = opts.fs || 12.5;
    const g = svg.append("g")
        .attr("transform", `translate(${x},${y})` + (opts.rot ? ` rotate(${opts.rot})` : ""));
    const t = g.append("text").attr("x", 0).attr("y", 0)
        .attr("font-size", fs)
        .attr("text-anchor", opts.anchor || "start")
        .attr("fill", opts.fill || "#000");
    const bars = rich(t, parts, fs);
    // widen the spacing a little to match the TeX set width of the original
    if (opts.width) {
        const w = t.node().getBBox().width;
        const n = t.text().length;
        if (w < opts.width && n > 1) t.attr("letter-spacing", (opts.width - w) / (n - 1));
    }
    bars.forEach(i => {
        const e = t.node().getExtentOfChar(i);
        g.append("line").attr("x1", e.x + 0.15 * e.width).attr("x2", e.x + e.width)
            .attr("y1", -0.56 * fs).attr("y2", -0.56 * fs)
            .attr("stroke", opts.fill || "#000").attr("stroke-width", 0.8);
    });
    return t;
}

function pow10Labels(g) {
    g.selectAll(".tick text").each(function(d) {
        const t = d3.select(this).text("");
        t.append("tspan").text("10");
        t.append("tspan").attr("dy", -5).attr("font-size", 9).text(Math.round(Math.log10(d)));
    });
}

// ===== panel (a) =====
const xa = d3.scaleLinear().domain([2010.32, 2020.28]).range([70, 534]);
const ya = d3.scaleLinear().domain([-0.75, 0.75]).range([190.7, 22.7]);
svg.append("line").attr("x1", 70).attr("x2", 534).attr("y1", ya(0)).attr("y2", ya(0))
    .attr("stroke", "#222").attr("stroke-width", 1);
const aPts = aNorth.concat(aSouth).slice().sort((p, q) => Math.abs(p[2]) - Math.abs(q[2]));
svg.append("g").selectAll("circle").data(aPts).join("circle")
    .attr("cx", d => xa(d[0])).attr("cy", d => ya(d[1])).attr("r", 2.7)
    .attr("fill", d => cool(d[2] / 100));
svg.append("g").attr("transform", "translate(0,190.7)")
    .call(d3.axisBottom(xa).tickValues(yearTicks).tickFormat(d3.format("d")).tickSize(3.5).tickPadding(6))
    .call(tidy);
svg.append("g").attr("transform", "translate(70,0)")
    .call(d3.axisLeft(ya).tickValues(sinTicks).tickFormat(d3.format(".2f")).tickSize(3.5).tickPadding(5.5))
    .call(tidy);
frame(70, 22.7, 534, 190.7);
label(83, 39, [["(a)"]]);
label(302, 226, [["Year"]], {anchor: "middle"});
label(19, 107, [["sin "], ["λ", "i"], ["0", "_"]], {anchor: "middle", rot: -90});

// colorbar
const ycb = d3.scaleLinear().domain([-1, 1]).range([190.7, 22.7]);
const grad = svg.append("defs").append("linearGradient").attr("id", "cb")
    .attr("x1", 0).attr("y1", 1).attr("x2", 0).attr("y2", 0);
d3.range(0, 1.0001, 0.05).forEach(o => grad.append("stop").attr("offset", o).attr("stop-color", cool(o * 2 - 1)));
svg.append("rect").attr("x", 563).attr("y", 22.7).attr("width", 8.7).attr("height", 168)
    .attr("fill", "url(#cb)");
svg.append("g").attr("transform", "translate(571.7,0)")
    .call(d3.axisRight(ycb).tickValues(cbTicks).tickFormat(d3.format(".1f")).tickSize(3.5).tickPadding(4.5))
    .call(tidy);
frame(563, 22.7, 571.7, 190.7);
label(538, 18, [["×10"], ["23", "^"]]);
label(622, 110, [["|Φ| [Mx]"]], {anchor: "middle", rot: -90});

// ===== panel (b) =====
const xb = d3.scaleLog().domain([1, 18.4]).range([70, 325]);
const yb = d3.scaleLog().domain([Math.pow(10, 18.16), Math.pow(10, 23.36)]).range([419, 250]);
const bPts = bPoints.slice().sort((p, q) => p[1] - q[1]);
svg.append("g").selectAll("circle").data(bPts).join("circle")
    .attr("cx", d => xb(d[0])).attr("cy", d => yb(Math.pow(10, d[1]))).attr("r", 2.3)
    .attr("fill", d => cool(d[2] * Math.pow(10, d[1] - 23)));
const bLine = d3.line().x(d => xb(d[0])).y(d => yb(d[1]));
[0, 1, 2].forEach(i => {
    const ends = xb.domain().map(r => [r, fitAmp[i] * Math.pow(r, fitPow[i])]);
    svg.append("path").attr("d", bLine(ends)).attr("fill", "none")
        .attr("stroke", lineCol[i]).attr("stroke-width", i ? 1.1 : 1.6)
        .attr("stroke-dasharray", i ? "4,2" : null);
});
const bxMinor = xb.ticks().filter(v => !rhoTicks.includes(v));
const byMinor = yb.ticks().filter(v => Math.abs(Math.log10(v) - Math.round(Math.log10(v))) > 1e-6);
svg.append("g").attr("transform", "translate(0,419)")
    .call(d3.axisBottom(xb).tickValues(bxMinor).tickFormat("").tickSize(2)).call(tidy);
svg.append("g").attr("transform", "translate(0,419)")
    .call(d3.axisBottom(xb).tickValues(rhoTicks).tickSize(3.5).tickPadding(6.5))
    .call(tidy).call(pow10Labels);
svg.append("g").attr("transform", "translate(70,0)")
    .call(d3.axisLeft(yb).tickValues(byMinor).tickFormat("").tickSize(2)).call(tidy);
svg.append("g").attr("transform", "translate(70,0)")
    .call(d3.axisLeft(yb).tickValues(phiTicks).tickSize(3.5).tickPadding(3))
    .call(tidy).call(pow10Labels);
frame(70, 250, 325, 419);
label(83, 268, [["(b)"]]);
label(24, 334, [["|Φ| [Mx]"]], {anchor: "middle", rot: -90});
label(198, 452, [["ρ", "i"], [" [°]"]], {anchor: "middle"});
const eqY = [376, 394, 412];
const eqX = [131, 129, 126];
const eqW = [105, 150, 166];
fitNames.forEach((n, i) => {
    const a = (fitAmp[i] / 1e20).toFixed(1);
    const parts = i === 0
        ? [[`|Φ| = (${a}e20) `], ["ρ", "i"], [String(fitPow[i]), "^"]]
        : [[`${n}  |Φ| = (${a}`], ["e", "i"], ["20) "], ["ρ", "i"], [String(fitPow[i]), "^"]];
    label(eqX[i], eqY[i], parts, {fill: lineCol[i], fs: 14, width: eqW[i]});
});

// ===== panel (c) =====
const xc = d3.scaleLinear().domain([-45, 45]).range([394.3, 650]);
const yc = d3.scaleLinear().domain([-90.5, 90.5]).range([419, 250]);
const cPts = cSouth.concat(cNorth).slice().sort((p, q) => Math.abs(p[2]) - Math.abs(q[2]));
svg.append("g").selectAll("circle").data(cPts).join("circle")
    .attr("cx", d => xc(d[0])).attr("cy", d => yc(d[1])).attr("r", 2.3)
    .attr("fill", d => cool(d[2] / 100));
svg.append("line").attr("x1", 394.3).attr("x2", 650).attr("y1", yc(0)).attr("y2", yc(0))
    .attr("stroke", "#222").attr("stroke-width", 1);
svg.append("line").attr("x1", xc(0)).attr("x2", xc(0)).attr("y1", 250).attr("y2", 419)
    .attr("stroke", "#222").attr("stroke-width", 1);
const rad = Math.PI / 180;
const cLine = d3.line().x(d => xc(d[0])).y(d => yc(d[1]));
[0, 1, 2].forEach(i => {
    const pts = d3.range(-45, 45.01, 1).map(l => [l, Math.asin(fitJoy[i] * Math.sin(l * rad)) / rad]);
    svg.append("path").attr("d", cLine(pts)).attr("fill", "none")
        .attr("stroke", lineCol[i]).attr("stroke-width", i ? 1.1 : 1.6)
        .attr("stroke-dasharray", i ? "4,2" : null);
});
svg.append("g").attr("transform", "translate(0,419)")
    .call(d3.axisBottom(xc).tickValues(lamTicks).tickFormat(d3.format("d")).tickSize(3.5).tickPadding(6.5))
    .call(tidy);
svg.append("g").attr("transform", "translate(394.3,0)")
    .call(d3.axisLeft(yc).tickValues(gamTicks).tickFormat(d3.format("d")).tickSize(3.5).tickPadding(5.5))
    .call(tidy);
frame(394.3, 250, 650, 419);
label(408, 269, [["(c)"]]);
label(347, 333, [["γ", "io"], [" [°]"]], {anchor: "middle", rot: -90});
label(522, 455, [["λ", "i"], ["0", "_"], [" [°]"]], {anchor: "middle"});
label(401, 403, [["sin "], ["γ", "io"], [` = ${fitJoy[0]} sin `], ["λ", "i"], ["0", "_"]], {fs: 14, width: 103});
</script>
</body>
</html>
